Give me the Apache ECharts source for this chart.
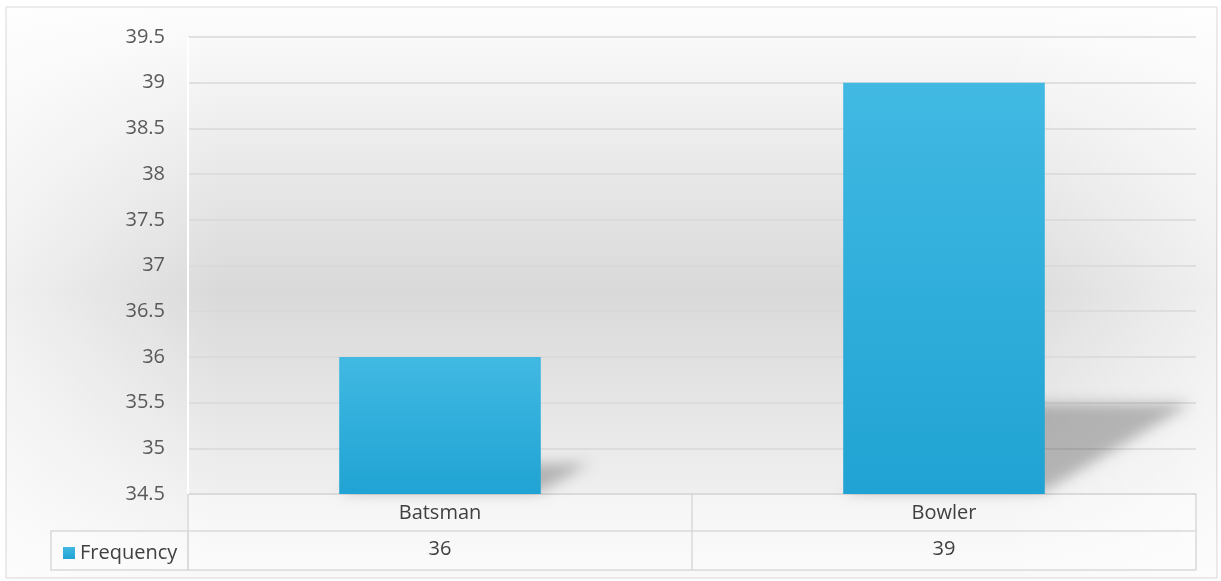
<!DOCTYPE html>
<html><head><meta charset="utf-8">
<script src="https://cdn.jsdelivr.net/npm/echarts@6/dist/echarts.min.js"></script>
<style>html,body{margin:0;padding:0;background:#fff}#c{width:1221px;height:581px}</style>
</head><body><div id="c"></div>
<script>
const categories = ['Batsman', 'Bowler'];
const frequency = [36, 39];
const seriesName = 'Frequency';
const yMin = 34.5, yMax = 39.5, yStep = 0.5;

const FONT = '"Open Sans", sans-serif';
const chart = echarts.init(document.getElementById('c'));
const gl = 188, gr = 25, gt = 37, gb = 87;

chart.setOption({
  animation: false,
  graphic: [
    { type: 'rect', z: -10, shape: { x: 6, y: 7, width: 1211, height: 571 },
      style: { fill: { type: 'linear', x: 0, y: 0, x2: 0, y2: 1, colorStops: [
        { offset: 0, color: '#fdfdfd' }, { offset: 0.5, color: '#d9d9d9' }, { offset: 1, color: '#f9f9f9' }] },
        stroke: '#d9d9d9', lineWidth: 1 } },
    { type: 'rect', z: -9, shape: { x: 7, y: 8, width: 1209, height: 569 },
      style: { fill: { type: 'linear', x: 0, y: 0, x2: 1, y2: 0, colorStops: [
        { offset: 0, color: 'rgba(255,255,255,0.6)' }, { offset: 0.18, color: 'rgba(255,255,255,0)' },
        { offset: 0.82, color: 'rgba(255,255,255,0)' }, { offset: 1, color: 'rgba(255,255,255,0.6)' }] } } },
    { type: 'rect', z: -5, shape: { x: 51, y: 531, width: 137, height: 39 },
      style: { fill: 'rgba(255,255,255,0.3)', stroke: '#d9d9d9', lineWidth: 1.5 } },
    { type: 'rect', z: -5, shape: { x: gl, y: 581 - gb, width: 1221 - gl - gr, height: 76 },
      style: { fill: 'rgba(255,255,255,0.35)' } },
    { type: 'line', z: 5, shape: { x1: gl, y1: gt, x2: gl, y2: 581 - gb }, style: { stroke: '#ffffff', lineWidth: 2 } }
  ],
  legend: {
    left: 58, top: 538, icon: 'rect', itemWidth: 12, itemHeight: 12, itemGap: 6,
    data: [seriesName],
    textStyle: { fontFamily: FONT, fontSize: 20, color: '#404040' }
  },
  grid: { left: gl, right: gr, top: gt, bottom: gb },
  xAxis: [
    { type: 'category', data: categories, position: 'bottom',
      axisLine: { lineStyle: { color: '#d9d9d9', width: 1.5 } },
      axisTick: { show: true, length: 76, lineStyle: { color: '#d9d9d9', width: 1.5 } },
      axisLabel: { fontFamily: FONT, fontSize: 20, color: '#404040', margin: 9 } },
    { type: 'category', data: frequency.map(String), position: 'bottom', offset: 37,
      axisLine: { lineStyle: { color: '#d9d9d9', width: 1.5 } },
      axisTick: { show: false },
      axisLabel: { fontFamily: FONT, fontSize: 20, color: '#404040', margin: 8 } },
    { type: 'category', data: categories, position: 'bottom', offset: 76,
      axisLine: { lineStyle: { color: '#d9d9d9', width: 1.5 } },
      axisTick: { show: false }, axisLabel: { show: false } }
  ],
  yAxis: {
    type: 'value', min: yMin, max: yMax, interval: yStep,
    axisLine: { show: false }, axisTick: { show: false },
    axisLabel: { fontFamily: FONT, fontSize: 20, color: '#595959', margin: 23 },
    splitLine: { lineStyle: { color: '#d9d9d9', width: 1.5 } }
  },
  series: [
    { type: 'custom', xAxisIndex: 0, z: 1, silent: true, clip: false,
      data: frequency.map((v, i) => [i, v]),
      renderItem: function (params, api) {
        const b = api.coord([api.value(0), yMin]);
        const t = api.coord([api.value(0), api.value(1)]);
        const bw = api.size([1, 0])[0] * 0.4;
        const xl = b[0] - bw / 2, xr = b[0] + bw / 2;
        const h = (b[1] - t[1]) * 0.22, dx = h * 1.62;
        const off = 3000;
        return { type: 'polygon',
          shape: { points: [[xl - off, b[1] - 2], [xr - off - 2, b[1] - 2], [xr + dx - off, b[1] - h], [xl + dx - off, b[1] - h]] },
          style: { fill: '#000', shadowBlur: 14, shadowOffsetX: off, shadowOffsetY: 0, shadowColor: 'rgba(0,0,0,0.25)' } };
      } },
    { name: seriesName, type: 'bar', xAxisIndex: 0, data: frequency, barWidth: '40%', z: 3,
      itemStyle: { color: { type: 'linear', x: 0, y: 0, x2: 0, y2: 1, colorStops: [
        { offset: 0, color: '#41b9e3' }, { offset: 1, color: '#20a3d3' }] } } }
  ]
});
</script></body></html>
